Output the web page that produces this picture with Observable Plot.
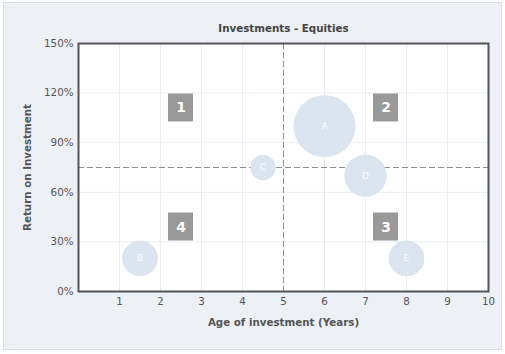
<!DOCTYPE html>
<html>
<head>
<meta charset="utf-8">
<script src="https://cdn.jsdelivr.net/npm/d3@7"></script>
<script src="https://cdn.jsdelivr.net/npm/@observablehq/plot@0.6"></script>
<style>
  html, body { margin: 0; padding: 0; background: #ffffff; }
  #wrap { position: absolute; left: 3px; top: 2px; width: 497px; height: 346px; border: 1px solid #dadee6; background: #edf0f5; }
  #chart { position: absolute; left: -4px; top: -3px; width: 505px; height: 354px; }
  #chart svg { overflow: visible; max-width: none !important; }
</style>
</head>
<body>
<div id="wrap"><div id="chart"></div></div>
<script>
const title = "Investments - Equities";
const xLabel = "Age of investment (Years)";
const yLabel = "Return on Investment";

const names = ["A", "B", "C", "D", "E"];
const ages = [6, 1.5, 4.5, 7, 8];
const returns = [100, 20, 75, 70, 20];
const sizes = [60, 20, 10, 28, 20];

const quadLabels = ["1", "2", "3", "4"];
const quadX = [2.5, 7.5, 7.5, 2.5];
const quadY = [111, 111, 39, 39];

const refX = 5;
const refY = 75;

const xTicks = [1, 2, 3, 4, 5, 6, 7, 8, 9, 10];
const yTicks = [0, 30, 60, 90, 120, 150];

const bubbles = names.map((n, i) => ({name: n, age: ages[i], ret: returns[i], size: sizes[i]}));
const quads = quadLabels.map((q, i) => ({label: q, x: quadX[i], y: quadY[i]}));

const font = "DejaVu Sans, Verdana, sans-serif";

const chart = Plot.plot({
  width: 505,
  height: 354,
  marginLeft: 78,
  marginRight: 17,
  marginTop: 43,
  marginBottom: 63,
  style: {fontFamily: font, fontSize: "10.3px", color: "#555", background: "transparent"},
  x: {domain: [0, 10], ticks: xTicks, tickSize: 0, tickPadding: 6, label: null},
  y: {domain: [0, 150], ticks: yTicks, tickSize: 0, tickPadding: 5, tickFormat: d => d + "%", label: null},
  r: {domain: [0, 60], range: [0, 31]},
  marks: [
    Plot.frame({fill: "white", stroke: null}),
    Plot.gridX(xTicks.slice(0, -1), {stroke: "#e9edf3", strokeOpacity: 1}),
    Plot.gridY(yTicks.slice(1, -1), {stroke: "#e9edf3", strokeOpacity: 1}),
    Plot.ruleX([refX], {stroke: "#8c8c8c", strokeDasharray: "6,3", strokeWidth: 1}),
    Plot.ruleY([refY], {stroke: "#8c8c8c", strokeDasharray: "6,3", strokeWidth: 1}),
    Plot.dot(bubbles, {x: "age", y: "ret", r: "size", fill: "#dbe4ef", stroke: null}),
    Plot.text(bubbles, {x: "age", y: "ret", text: "name", fill: "white", fontSize: 9}),
    Plot.rect(quads, {x1: "x", x2: "x", y1: "y", y2: "y", insetLeft: -12.5, insetRight: -12.5, insetTop: -14, insetBottom: -14, fill: "#999999"}),
    Plot.text(quads, {x: "x", y: "y", text: "label", fill: "white", fontSize: 14, fontWeight: "bold"}),
    Plot.frame({stroke: "#555", strokeWidth: 2}),
    Plot.axisX({ticks: xTicks, tickSize: 0, tickPadding: 6, label: null}),
    Plot.axisY({ticks: yTicks, tickSize: 0, tickPadding: 5, tickFormat: d => d + "%", label: null}),
    Plot.text([title], {frameAnchor: "top", dy: -19, fontWeight: "bold", fontSize: 10.3, fill: "#444"}),
    Plot.text([xLabel], {frameAnchor: "bottom", dy: 34, fontWeight: "bold", fontSize: 10.3, fill: "#555"}),
    Plot.text([yLabel], {frameAnchor: "left", textAnchor: "middle", dx: -51, rotate: -90, fontWeight: "bold", fontSize: 10.3, fill: "#555"})
  ]
});
document.getElementById("chart").appendChild(chart);
</script>
</body>
</html>
